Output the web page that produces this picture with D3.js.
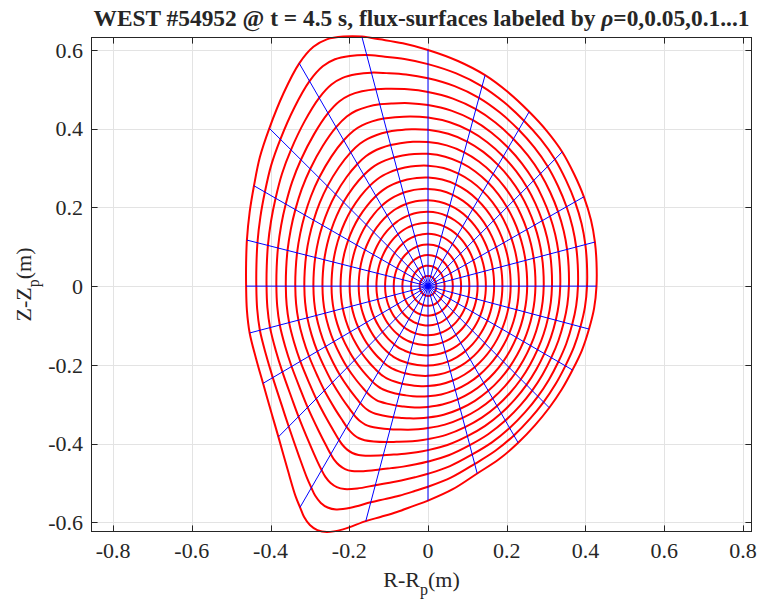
<!DOCTYPE html>
<html><head><meta charset="utf-8">
<script src="https://cdn.jsdelivr.net/npm/d3@7"></script>
<style>
body{margin:0;background:#fff}
svg{display:block}
text{font-family:"Liberation Serif","Times New Roman",Times,serif;fill:#262626}
</style>
</head><body>
<svg id="c" width="761" height="607"></svg>
<script>
// ---------- data ----------
const rhoLevels = [0.05,0.10,0.15,0.20,0.25,0.30,0.35,0.40,0.45,0.50,0.55,0.60,0.65,0.70,0.75,0.80,0.85,0.90,0.95,1.00];
// outboard / inboard half-widths and top / bottom half-heights of each surface (m)
const rOut = [0.021,0.042,0.063,0.084,0.105,0.126,0.147,0.168,0.189,0.210,0.231,0.252,0.273,0.294,0.315,0.336,0.358,0.381,0.404,0.428];
const rIn  = [0.021,0.043,0.065,0.087,0.109,0.131,0.153,0.176,0.199,0.222,0.245,0.268,0.291,0.314,0.337,0.361,0.385,0.410,0.436,0.462];
const zTop = [0.026,0.052,0.079,0.106,0.133,0.161,0.189,0.218,0.247,0.276,0.306,0.336,0.366,0.397,0.428,0.460,0.493,0.528,0.564,0.600];
const zBot = [0.025,0.050,0.075,0.100,0.125,0.150,0.176,0.202,0.228,0.254,0.280,0.307,0.334,0.361,0.389,0.417,0.446,0.477,0.510,0.545];
// how much of the boundary's non-elliptic shape each surface carries
const shapeWeight = [0.0001,0.001,0.003,0.008,0.016,0.027,0.043,0.064,0.091,0.125,0.166,0.216,0.275,0.343,0.422,0.512,0.614,0.729,0.857,1.000];
// last closed flux surface (m), counter-clockwise from the outboard midplane
const boundaryR = [0.428,0.428,0.424,0.414,0.396,0.371,0.341,0.302,0.257,0.203,0.145,0.076,0.000,-0.064,-0.122,-0.168,-0.215,-0.257,-0.291,-0.327,-0.367,-0.403,-0.427,-0.442,-0.453,-0.460,-0.462,-0.462,-0.460,-0.453,-0.437,-0.419,-0.397,-0.380,-0.356,-0.336,-0.325,-0.315,-0.300,-0.281,-0.257,-0.216,-0.158,-0.119,-0.079,-0.038,0.000,0.063,0.125,0.180,0.229,0.272,0.308,0.340,0.367,0.391,0.409,0.422];
const boundaryZ = [0.000,0.061,0.112,0.168,0.227,0.285,0.341,0.394,0.443,0.493,0.536,0.572,0.600,0.617,0.627,0.634,0.634,0.627,0.608,0.566,0.490,0.401,0.328,0.255,0.188,0.117,0.058,0.000,-0.061,-0.119,-0.183,-0.247,-0.324,-0.383,-0.468,-0.535,-0.562,-0.586,-0.607,-0.620,-0.625,-0.618,-0.597,-0.586,-0.574,-0.559,-0.545,-0.516,-0.476,-0.440,-0.398,-0.353,-0.309,-0.262,-0.213,-0.163,-0.109,-0.056];
// end points of the 24 poloidal-angle lines on the boundary (m)
const thetaEndR = [0.428,0.424,0.396,0.341,0.257,0.145,0.000,-0.168,-0.327,-0.403,-0.442,-0.460,-0.462,-0.453,-0.419,-0.380,-0.325,-0.158,0.000,0.125,0.229,0.308,0.367,0.409];
const thetaEndZ = [0.000,0.112,0.227,0.341,0.443,0.536,0.600,0.634,0.566,0.401,0.255,0.117,0.000,-0.119,-0.247,-0.383,-0.562,-0.597,-0.545,-0.476,-0.398,-0.309,-0.213,-0.109];
const xTicks = [-0.8,-0.6,-0.4,-0.2,0,0.2,0.4,0.6,0.8];
const yTicks = [-0.6,-0.4,-0.2,0,0.2,0.4,0.6];
const xDomain = [-0.856,0.823];
const yDomain = [-0.6247,0.633];

// ---------- layout ----------
const L=91,R=752,T=37,B=532;
const svg=d3.select("#c");
const x=d3.scaleLinear().domain(xDomain).range([L,R]);
const y=d3.scaleLinear().domain(yDomain).range([B,T]);
const fmt=v=>v===0?"0":(v<0?"-":"")+String(Math.abs(+v.toFixed(1)));

// grid
const g=svg.append("g");
g.selectAll(".gx").data(xTicks).join("line").attr("x1",d=>Math.round(x(d))+0.5).attr("x2",d=>Math.round(x(d))+0.5).attr("y1",T).attr("y2",B).attr("stroke","#e3e3e3").attr("stroke-width",1);
g.selectAll(".gy").data(yTicks).join("line").attr("y1",d=>Math.round(y(d))+0.5).attr("y2",d=>Math.round(y(d))+0.5).attr("x1",L).attr("x2",R).attr("stroke","#e3e3e3").attr("stroke-width",1);

// surfaces
const nB=boundaryR.length;
const ang=boundaryR.map((r,i)=>Math.atan2(boundaryZ[i],r));
const rad=boundaryR.map((r,i)=>Math.hypot(r,boundaryZ[i]));
function qe(phi,a1,a2,b1,b2){const c=Math.cos(phi),s=Math.sin(phi);const a=c>=0?a1:a2,b=s>=0?b1:b2;return 1/Math.sqrt((c/a)*(c/a)+(s/b)*(s/b));}
const last=rhoLevels.length-1;
const dev=ang.map((p,i)=>rad[i]/qe(p,rOut[last],rIn[last],zTop[last],zBot[last]));
// lightly smoothed deviation for the inner surfaces
const devS=dev.map((d,i)=>0.25*dev[(i-1+nB)%nB]+0.5*d+0.25*dev[(i+1)%nB]);
const surfaces=rhoLevels.map((rho,k)=>ang.map((p,i)=>{
  const w=shapeWeight[k];
  const dv=k===last?dev[i]:(w*dev[i]+(1-w)*devS[i]);
  const r=qe(p,rOut[k],rIn[k],zTop[k],zBot[k])*(1+w*(dv-1));
  return [r*Math.cos(p),r*Math.sin(p)];
}));
const line=d3.line().x(d=>x(d[0])).y(d=>y(d[1])).curve(d3.curveCatmullRomClosed.alpha(0.5));
svg.append("g").selectAll("path").data(surfaces).join("path")
  .attr("d",line).attr("fill","none").attr("stroke","#ff0000").attr("stroke-width",2);

// poloidal angle lines
svg.append("g").selectAll("line").data(thetaEndR).join("line")
  .attr("x1",x(0)).attr("y1",y(0)).attr("x2",d=>x(d)).attr("y2",(d,i)=>y(thetaEndZ[i]))
  .attr("stroke","#0000ff").attr("stroke-width",1);

// axes box & ticks
const ax=svg.append("g").attr("stroke","#262626").attr("stroke-width",1).attr("fill","none");
ax.append("rect").attr("x",L+0.5).attr("y",T+0.5).attr("width",R-L-1).attr("height",B-T-1);
const tl=6.6;
xTicks.forEach(v=>{const px=Math.round(x(v))+0.5;
  ax.append("line").attr("x1",px).attr("x2",px).attr("y1",B).attr("y2",B-tl);
  ax.append("line").attr("x1",px).attr("x2",px).attr("y1",T).attr("y2",T+tl);});
yTicks.forEach(v=>{const py=Math.round(y(v))+0.5;
  ax.append("line").attr("y1",py).attr("y2",py).attr("x1",L).attr("x2",L+tl);
  ax.append("line").attr("y1",py).attr("y2",py).attr("x1",R).attr("x2",R-tl);});

const fs=22;
svg.append("g").selectAll("text").data(xTicks).join("text")
  .attr("x",d=>x(d)).attr("y",B+26).attr("text-anchor","middle").attr("font-size",fs).text(fmt);
svg.append("g").selectAll("text").data(yTicks).join("text")
  .attr("x",L-8).attr("y",d=>y(d)).attr("dy","0.35em").attr("text-anchor","end").attr("font-size",fs).text(fmt);

// axis labels
const xl=svg.append("text").attr("x",(L+R)/2).attr("y",587).attr("text-anchor","middle").attr("font-size",fs);
xl.append("tspan").text("R-R");
xl.append("tspan").attr("dy",8).attr("font-size",16).text("p");
xl.append("tspan").attr("dy",-8).text("(m)");
const yl=svg.append("text").attr("transform",`translate(31,${(T+B)/2}) rotate(-90)`).attr("text-anchor","middle").attr("font-size",fs);
yl.append("tspan").text("Z-Z");
yl.append("tspan").attr("dy",8).attr("font-size",16).text("p");
yl.append("tspan").attr("dy",-8).text("(m)");

// title
const t=svg.append("text").attr("x",(L+R)/2).attr("y",26).attr("text-anchor","middle").attr("font-size",23.4).attr("font-weight","bold").attr("fill","#000");
t.append("tspan").text("WEST #54952 @ t = 4.5 s, flux-surfaces labeled by ");
t.append("tspan").attr("font-style","italic").text("ρ");
t.append("tspan").text("=0,0.05,0.1...1");
</script>
</body></html>
